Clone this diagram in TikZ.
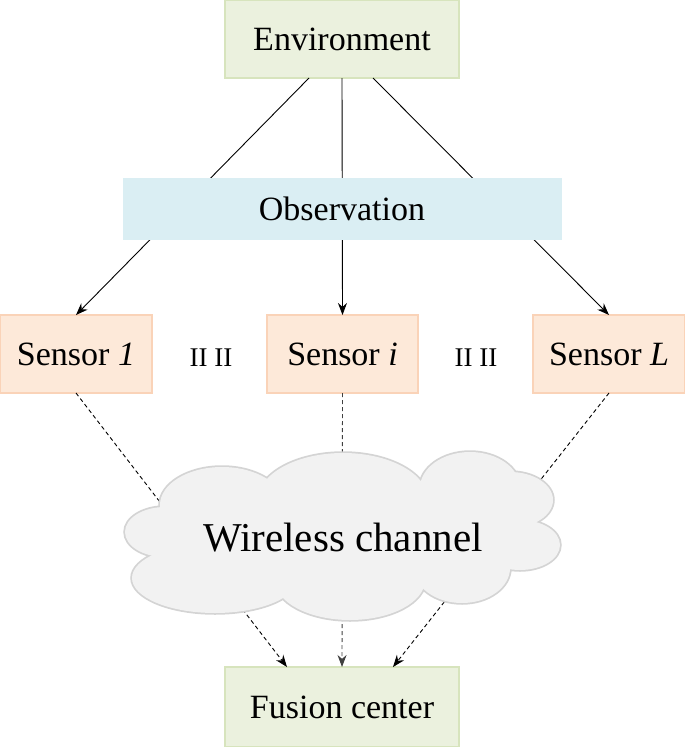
\documentclass[tikz,border=0pt]{standalone}
\usepackage{fontspec}
\setmainfont{Liberation Serif}
\usetikzlibrary{arrows.meta}
\definecolor{envfill}{HTML}{EBF1DE}
\definecolor{envline}{HTML}{D7E4BD}
\definecolor{obsfill}{HTML}{DAEEF3}
\definecolor{senfill}{HTML}{FDE9D9}
\definecolor{senline}{HTML}{FAD3B8}
\definecolor{cloudfill}{HTML}{F2F2F2}
\definecolor{cloudline}{HTML}{D4D4D4}
\begin{document}
\begin{tikzpicture}[x=1pt,y=-1pt,
  box/.style={rectangle, inner sep=0pt, outer sep=0pt, font=\fontsize{34}{40}\selectfont},
  greenbox/.style={box, fill=envfill, draw=envline, line width=1.5pt, minimum width=234pt, minimum height=78pt},
  bluebox/.style={box, fill=obsfill, draw=obsfill, line width=1pt, minimum width=438pt, minimum height=61pt},
  sensorbox/.style={box, fill=senfill, draw=senline, line width=1.5pt, minimum width=151pt, minimum height=78pt},
  dotslabel/.style={inner sep=0pt, font=\fontsize{27}{32}\selectfont},
  solidarrow/.style={draw=black, line width=0.9pt, -{Stealth[length=12pt,width=9pt]}},
  dasharrow/.style={draw=black, line width=0.9pt, dash pattern=on 4pt off 3pt, -{Stealth[length=12pt,width=9pt]}},
  cloudedge/.style={draw=cloudline, line width=3.5pt},
  cloudbody/.style={fill=cloudfill}
]
\useasboundingbox (0,0) rectangle (685,747);

% nodes
\node[greenbox] (env) at (342,39) {Environment};
\node[sensorbox, minimum width=152pt] (s1) at (76,354) {Sensor \textit{1}};
\node[sensorbox] (si) at (342.5,354) {Sensor \textit{i}};
\node[sensorbox, minimum width=152pt] (sL) at (609,354) {Sensor \textit{L}};
\node[dotslabel] (d1) at (211,358) {II II};
\node[dotslabel] (d2) at (476,358) {II II};
\node[greenbox, minimum height=80pt] (fc) at (342,707) {Fusion center};

% environment to sensors (behind observation)
\draw[solidarrow] ([xshift=-33pt]env.south) -- (s1.north);
\draw[solidarrow] (env.south) -- (si.north);
\draw[solidarrow] ([xshift=31pt]env.south) -- (sL.north);

\node[bluebox] (obs) at (342,208.5) {Observation};

% sensors to fusion center (behind cloud)
\draw[dasharrow] (s1.south) -- ([xshift=-55pt]fc.north);
\draw[dasharrow, draw=black!75] (si.south) -- (fc.north);
\draw[dasharrow] (sL.south) -- ([xshift=51pt]fc.north);

% cloud
\foreach \cx/\cy/\rx/\ry in {165/532/40/25, 215/578/83/35, 350/580/75/40, 462/568/48/35,
  520/545/40/25, 510/500/43/28, 470/488/50/36, 343/500/85/47, 222/505/62/38}
  \draw[cloudedge] (\cx,\cy) ellipse [x radius=\rx pt, y radius=\ry pt];
\foreach \cx/\cy/\rx/\ry in {165/532/40/25, 215/578/83/35, 350/580/75/40, 462/568/48/35,
  520/545/40/25, 510/500/43/28, 470/488/50/36, 343/500/85/47, 222/505/62/38, 343/535/160/50}
  \fill[cloudbody] (\cx,\cy) ellipse [x radius=\rx pt, y radius=\ry pt];
\node[inner sep=0pt, font=\fontsize{41}{48}\selectfont] (wc) at (343,538) {Wireless channel};
\end{tikzpicture}
\end{document}
